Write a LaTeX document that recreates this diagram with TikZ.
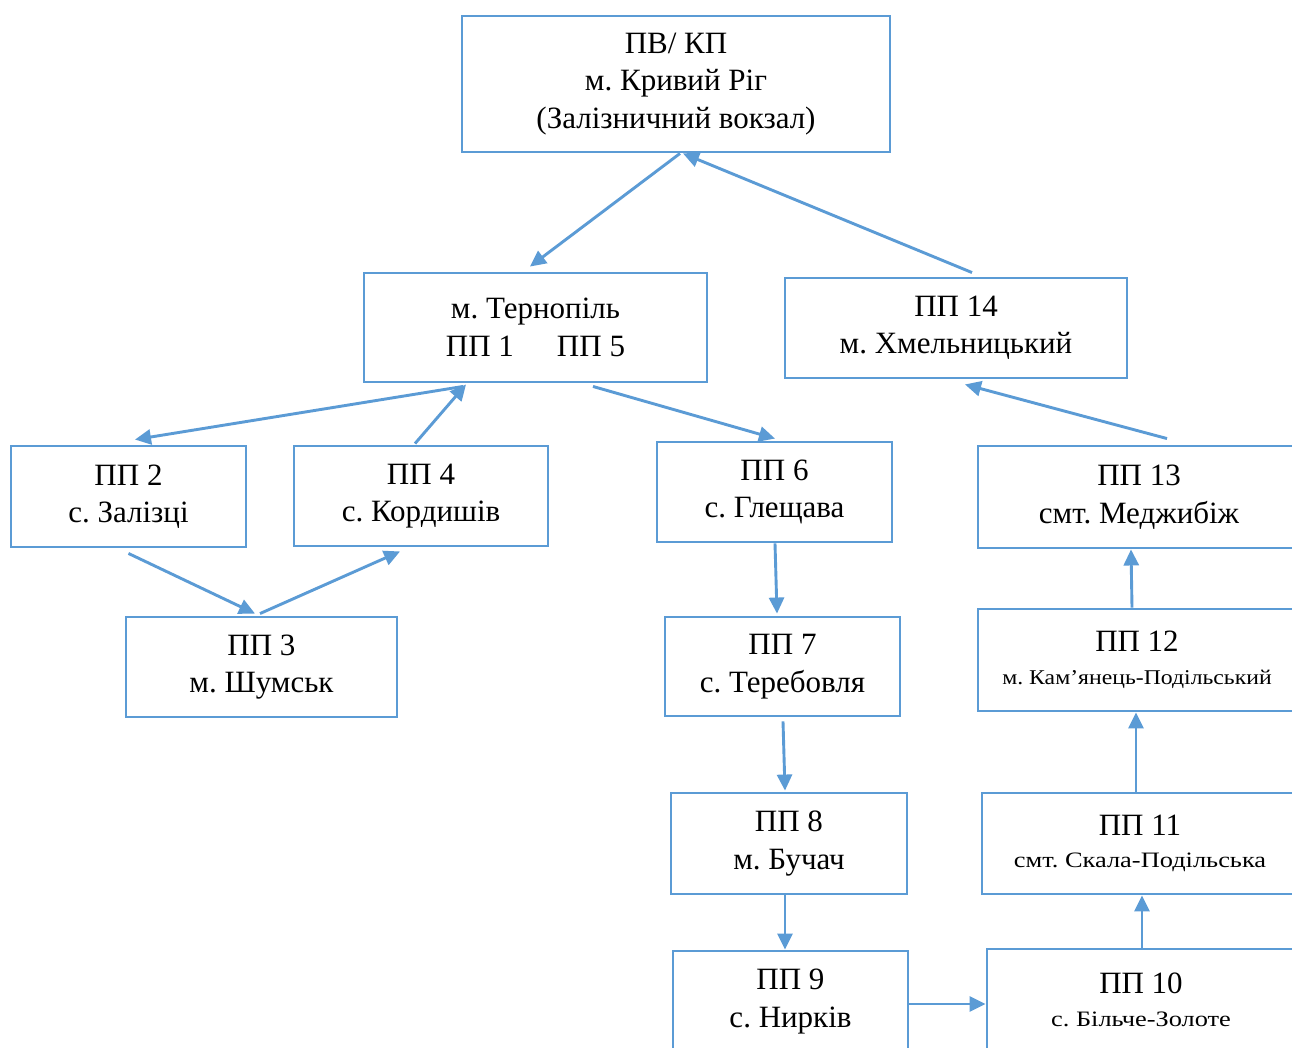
\documentclass[tikz,border=0pt]{standalone}
\usepackage{fontspec}
\usepackage{graphicx}
\setmainfont{Liberation Serif}
\usetikzlibrary{arrows.meta}
\definecolor{officeblue}{HTML}{5B9BD5}
\newcommand{\wideline}[3]{\scalebox{#2}[1]{\fontsize{#1}{#1}\selectfont #3}}
\begin{document}
\frenchspacing
\begin{tikzpicture}[x=1pt,y=-1pt,
  box/.style={draw=officeblue, line width=2.9pt, rectangle, align=center, inner sep=0pt,
    font=\fontsize{31}{37.5}\selectfont\frenchspacing, text=black},
  conn/.style={draw=officeblue, line width=2.9pt, -{Triangle[length=16pt,width=15pt]}}]
\useasboundingbox (0,0) rectangle (1292,1047);
\fill[white] (0,0) rectangle (1292,1047);
\clip (0,0) rectangle (1292,1047);

\node[box, minimum width=428pt, minimum height=136pt] (top) at (676,84)
  {\rule{0pt}{3pt}ПВ/ КП\\м. Кривий Ріг\\(Залізничний вокзал)};
\node[box, minimum width=343pt, minimum height=109pt] (tern) at (535.5,327.5)
  {м. Тернопіль\\ПП 1\hspace{43pt}ПП 5};
\node[box, minimum width=342pt, minimum height=100pt] (p14) at (956,328)
  {ПП 14\\м. Хмельницький};
\node[box, minimum width=235pt, minimum height=101pt] (p2) at (128.5,496.5)
  {ПП 2\\с. Залізці};
\node[box, minimum width=254pt, minimum height=100pt] (p4) at (421,496)
  {ПП 4\\с. Кордишів};
\node[box, minimum width=271pt, minimum height=100pt] (p3) at (261.5,667)
  {ПП 3\\м. Шумськ};
\node[box, minimum width=235pt, minimum height=100pt] (p6) at (774.5,492)
  {ПП 6\\с. Глещава};
\node[box, minimum width=322pt, minimum height=102pt] (p13) at (1139,497)
  {ПП 13\\смт. Меджибіж};
\node[box, minimum width=235pt, minimum height=99pt] (p7) at (782.5,666.5)
  {ПП 7\\с. Теребовля};
\node[box, minimum width=318pt, minimum height=102pt] (p12) at (1137,660)
  {ПП 12\\[-5pt]\wideline{21}{1.13}{м. Кам’янець-Подільський}};
\node[box, minimum width=236pt, minimum height=101pt] (p8) at (789,843.5)
  {ПП 8\\м. Бучач};
\node[box, minimum width=316pt, minimum height=101pt] (p11) at (1140,843.5)
  {ПП 11\\[-5pt]\wideline{22}{1.2}{смт. Скала-Подільська}};
\node[box, minimum width=235pt, minimum height=101pt] (p9) at (790.5,1001.5)
  {ПП 9\\с. Нирків};
\node[box, minimum width=308pt, minimum height=102pt] (p10) at (1141,1000)
  {ПП 10\\[-5pt]\wideline{22}{1.2}{с. Більче-Золоте}};

\draw[conn] ([xshift=4pt]top.south) -- ([xshift=-5.5pt,yshift=5pt]tern.north);
\draw[conn] ([xshift=16pt,yshift=4pt]p14.north) -- ([xshift=7pt]top.south);
\draw[conn] ([xshift=-72.5pt,yshift=-3pt]tern.south) -- ([xshift=6.5pt,yshift=5pt]p2.north);
\draw[conn] ([xshift=-6pt,yshift=1pt]p4.north) -- ([xshift=-69.5pt,yshift=-1pt]tern.south);
\draw[conn] ([yshift=-5pt]p2.south) -- ([xshift=-6.5pt,yshift=2pt]p3.north);
\draw[conn] ([xshift=-1.5pt,yshift=2pt]p3.north) -- ([xshift=-21pt,yshift=-4pt]p4.south);
\draw[conn] ([xshift=57.5pt,yshift=-3pt]tern.south) -- ([xshift=0.5pt,yshift=2pt]p6.north);
\draw[conn] ([xshift=28pt,yshift=6pt]p13.north) -- ([xshift=9pt,yshift=-5pt]p14.south);
\draw[conn] ([xshift=0.5pt]p6.south) -- ([xshift=-5.5pt,yshift=2pt]p7.north);
\draw[conn] ([xshift=0.5pt,yshift=-4pt]p7.south) -- ([xshift=-4pt,yshift=1pt]p8.north);
\draw[conn] ([xshift=-4pt]p8.south) -- ([xshift=-5.5pt]p9.north);
\draw[conn] ([yshift=-2.5pt]p9.east) -- ([yshift=-4pt]p10.west);
\draw[conn] ([xshift=1pt]p10.north) -- ([xshift=2pt]p11.south);
\draw[conn] ([xshift=-4pt]p11.north) -- ([xshift=-1pt]p12.south);
\draw[conn] ([xshift=-5pt]p12.north) -- ([xshift=-8pt]p13.south);
\end{tikzpicture}
\end{document}
